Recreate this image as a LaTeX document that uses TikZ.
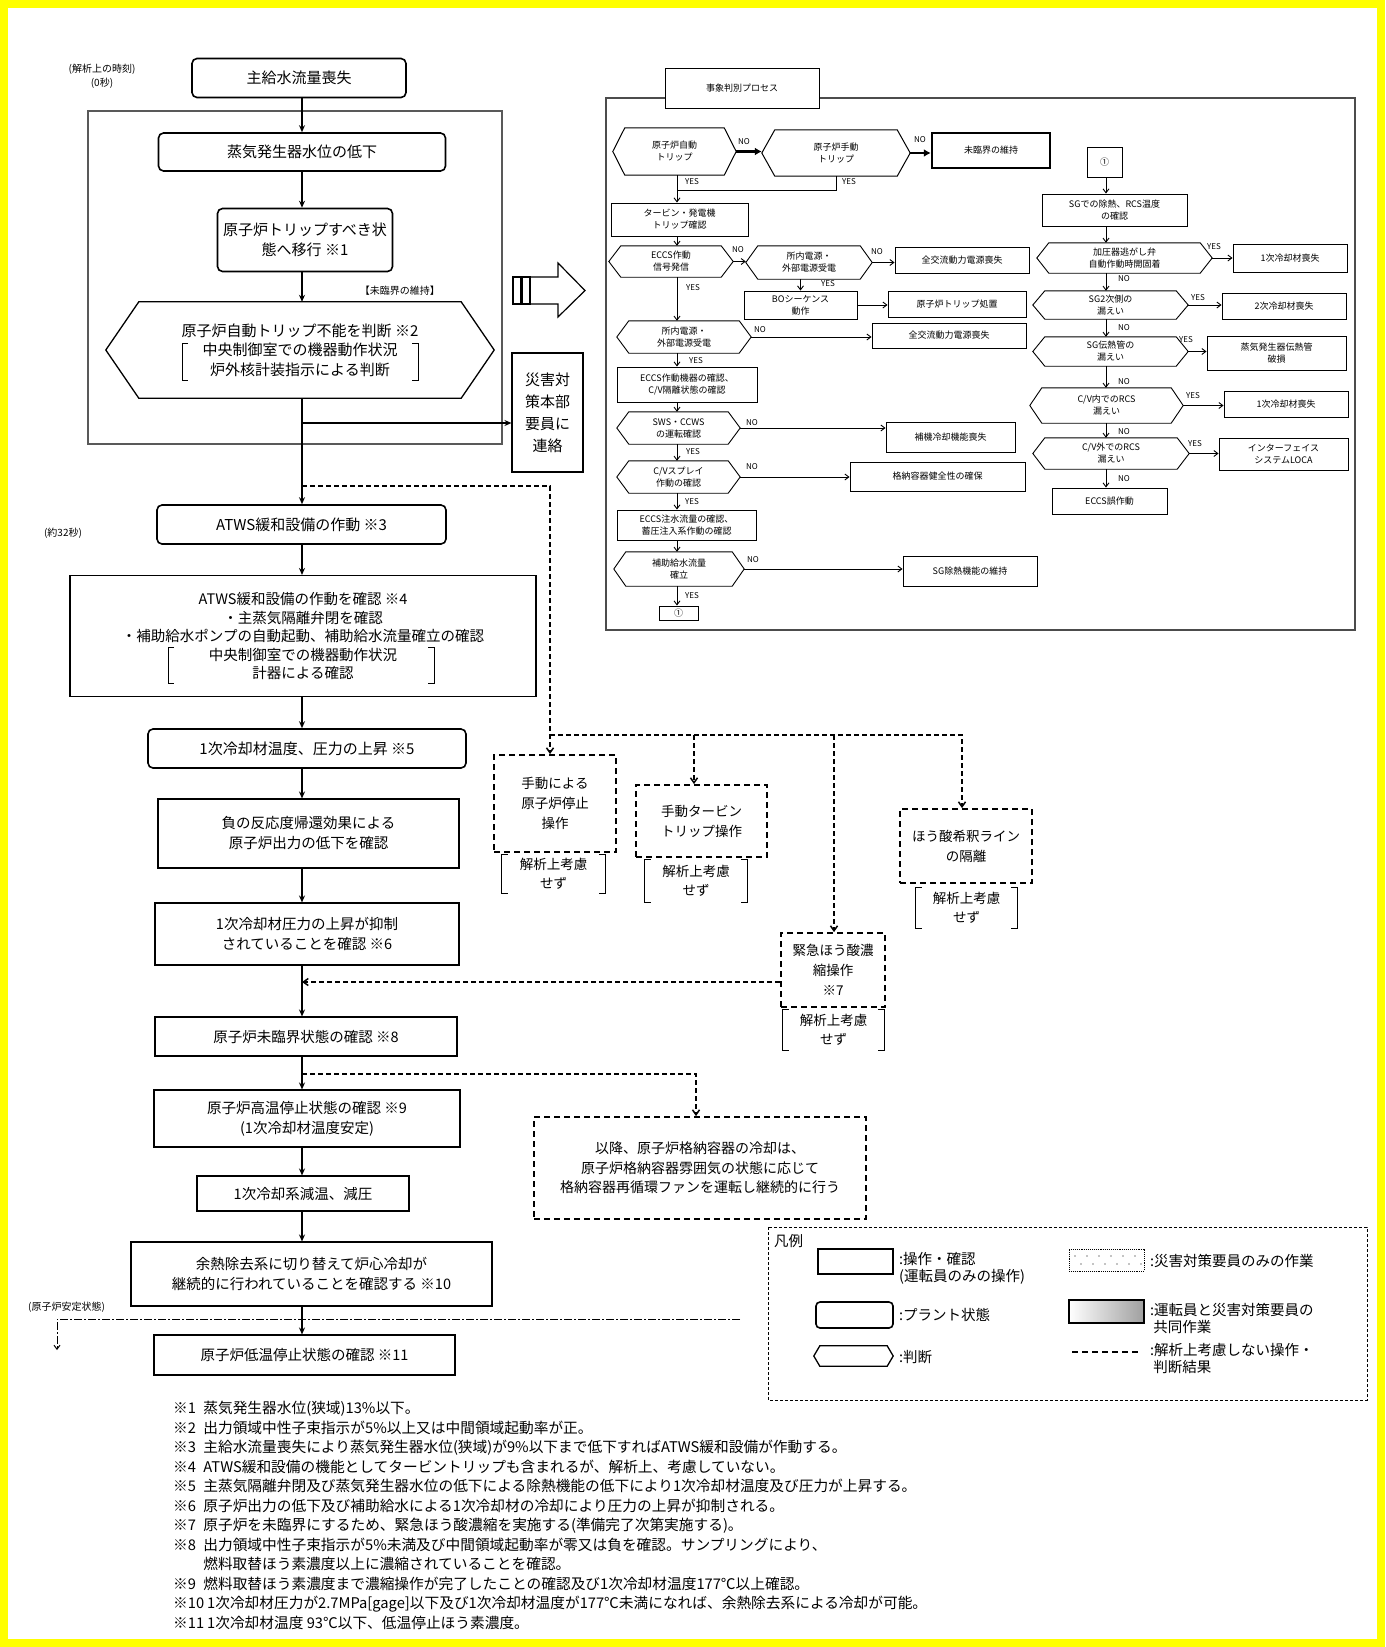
\documentclass[tikz,border=0pt]{standalone}
\usepackage{fontspec}
\setmainfont{Noto Sans CJK JP}
\usetikzlibrary{arrows.meta,calc}
\definecolor{yellowc}{RGB}{255,255,0}
\newcommand\fz[2]{\fontsize{#1}{#2}\selectfont}
\newcommand\hexpath[3]{\draw[#3] (#1.west) -- ([xshift=#2]#1.north west) -- ([xshift=-#2]#1.north east) -- (#1.east) -- ([xshift=-#2]#1.south east) -- ([xshift=#2]#1.south west) -- cycle;}
\newcommand\brackets[1]{\draw[line width=0.9] ([xshift=6]#1.north west) -- (#1.north west) -- (#1.south west) -- ([xshift=6]#1.south west);
 \draw[line width=0.9] ([xshift=-6]#1.north east) -- (#1.north east) -- (#1.south east) -- ([xshift=-6]#1.south east);}
\tikzset{
 roundbox/.style={draw, rounded corners=5pt, line width=1.6, align=center, inner sep=0, font=\fz{15}{20}},
 plainbox/.style={draw, line width=1.1, align=center, inner sep=0, font=\fz{14.5}{20}},
 hexnode/.style={align=center, inner sep=0, font=\fz{15}{19.5}},
 dashbox/.style={draw, line width=1.8, dash pattern=on 6pt off 4pt, align=center, inner sep=0, font=\fz{13.5}{20}},
 brk/.style={align=center, inner sep=0, font=\fz{13.5}{19}},
 sbox/.style={draw, line width=0.9, align=center, inner sep=0, font=\fz{9}{12}},
 shex/.style={align=center, inner sep=0, font=\fz{9}{12}},
 yn/.style={font=\fz{8}{9}, inner sep=0},
 small/.style={font=\fz{10}{14}, inner sep=0, align=center},
 mainarr/.style={line width=1.3, -{Stealth[length=7pt,width=6pt]}},
 sarr/.style={line width=0.9, -{Straight Barb[length=4pt,width=6pt]}},
 tharr/.style={line width=2.5, -{Latex[length=7pt,width=8pt]}},
 dashln/.style={line width=1.5, dash pattern=on 5pt off 3pt},
 dasharr/.style={dashln, -{Straight Barb[length=5pt,width=7pt]}},
 legtxt/.style={font=\fz{14.5}{17}, inner sep=0, align=left}
}
\begin{document}
\begin{tikzpicture}[x=1pt,y=-1pt]
\useasboundingbox (0,0) rectangle (1385,1647);
\fill[white] (0,0) rectangle (1385,1647);
\draw[yellowc, line width=8] (4,4) rectangle (1381,1643);

% ---------------- left main column ----------------
\node[small] (t0s) at (102,76) {(解析上の時刻)\\(0秒)};
\node[roundbox, minimum width=214, minimum height=39] (n1) at (299,78) {主給水流量喪失};
\draw[gray!70!black, line width=1.2] (88,111) rectangle (502,444);
\node[roundbox, minimum width=287, minimum height=38] (n2) at (302,152) {蒸気発生器水位の低下};
\node[roundbox, minimum width=175, minimum height=63] (n3) at (305,240) {原子炉トリップすべき状\\態へ移行 ※1};
\node[font=\fz{10}{12}, inner sep=0, anchor=east] (tm) at (440,291) {【未臨界の維持】};
\node[hexnode, minimum width=388, minimum height=96] (n4) at (300,350) {原子炉自動トリップ不能を判断 ※2\\中央制御室での機器動作状況\\炉外核計装指示による判断};
\hexpath{n4}{33}{line width=1.3}
\draw[line width=1] (188,343) -- (182,343) -- (182,380) -- (188,380);
\draw[line width=1] (412,343) -- (418,343) -- (418,380) -- (412,380);

\node[plainbox, minimum width=71, minimum height=119, font=\fz{15}{22}] (n5) at (547.5,412.5) {災害対\\策本部\\要員に\\連絡};

% big white arrow
\draw[line width=1.2] (513,277) rectangle (521,304);
\draw[line width=1.2] (522,277) rectangle (530,304);
\draw[line width=1.2] (530,277) -- (558,277) -- (558,263) -- (585,290.5) -- (558,317) -- (558,304) -- (530,304);

\node[small] (t32) at (63,533) {(約32秒)};
\node[roundbox, minimum width=289, minimum height=39] (n6) at (301.5,524.5) {ATWS緩和設備の作動 ※3};
\node[plainbox, minimum width=466, minimum height=121, font=\fz{14.5}{18.5}] (n7) at (303,636) {ATWS緩和設備の作動を確認 ※4\\・主蒸気隔離弁閉を確認\\・補助給水ポンプの自動起動、補助給水流量確立の確認\\中央制御室での機器動作状況\\計器による確認};
\draw[line width=1] (174,647) -- (168,647) -- (168,683) -- (174,683);
\draw[line width=1] (428,647) -- (434,647) -- (434,683) -- (428,683);
\node[roundbox, minimum width=318, minimum height=39] (n8) at (307,748.5) {1次冷却材温度、圧力の上昇 ※5};
\node[plainbox, minimum width=301, minimum height=69] (n9) at (308.5,833.5) {負の反応度帰還効果による\\原子炉出力の低下を確認};
\node[plainbox, minimum width=304, minimum height=62] (n10) at (307,934) {1次冷却材圧力の上昇が抑制\\されていることを確認 ※6};
\node[plainbox, minimum width=302, minimum height=39] (n11) at (306,1036.5) {原子炉未臨界状態の確認 ※8};
\node[plainbox, minimum width=306, minimum height=57] (n12) at (307,1118.5) {原子炉高温停止状態の確認 ※9\\(1次冷却材温度安定)};
\node[plainbox, minimum width=212, minimum height=35] (n13) at (303,1193.5) {1次冷却系減温、減圧};
\node[plainbox, minimum width=361, minimum height=64] (n14) at (311.5,1274) {余熱除去系に切り替えて炉心冷却が\\継続的に行われていることを確認する ※10};
\node[plainbox, minimum width=301, minimum height=40] (n15) at (304.5,1355) {原子炉低温停止状態の確認 ※11};

\coordinate (ax) at (302,0);
\draw[mainarr] (n1.south -| ax) -- (n2.north -| ax);
\draw[mainarr] (n2.south -| ax) -- (n3.north -| ax);
\draw[mainarr] (n3.south -| ax) -- (n4.north -| ax);
\draw[mainarr] (n4.south -| ax) -- (n6.north -| ax);
\coordinate (j1) at (302,423);
\draw[mainarr] (j1) -- (j1 -| n5.west);
\draw[mainarr] (n6.south -| ax) -- (n7.north -| ax);
\draw[mainarr] (n7.south -| ax) -- (n8.north -| ax);
\draw[mainarr] (n8.south -| ax) -- (n9.north -| ax);
\draw[mainarr] (n9.south -| ax) -- (n10.north -| ax);
\draw[mainarr] (n10.south -| ax) -- (n11.north -| ax);
\draw[mainarr] (n11.south -| ax) -- (n12.north -| ax);
\draw[mainarr] (n12.south -| ax) -- (n13.north -| ax);
\draw[mainarr] (n13.south -| ax) -- (n14.north -| ax);
\draw[mainarr] (n14.south -| ax) -- (n15.north -| ax);

% ---------------- dashed branches ----------------
\node[dashbox, minimum width=122, minimum height=97] (d1) at (555,803.5) {手動による\\原子炉停止\\操作};
\node[dashbox, minimum width=131, minimum height=72] (d2) at (701.5,821) {手動タービン\\トリップ操作};
\node[dashbox, minimum width=104, minimum height=74] (d3) at (833,970) {緊急ほう酸濃\\縮操作\\※7};
\node[dashbox, minimum width=132, minimum height=74] (d4) at (966,846) {ほう酸希釈ライン\\の隔離};
\node[dashbox, minimum width=332, minimum height=102, font=\fz{14}{19.5}] (d5) at (700,1168) {以降、原子炉格納容器の冷却は、\\原子炉格納容器雰囲気の状態に応じて\\格納容器再循環ファンを運転し継続的に行う};

\node[brk, minimum width=103, minimum height=38] (b1) at (553.5,874) {解析上考慮\\せず};
\node[brk, minimum width=102, minimum height=42] (b2) at (696,881) {解析上考慮\\せず};
\node[brk, minimum width=101, minimum height=40] (b3) at (833.5,1030) {解析上考慮\\せず};
\node[brk, minimum width=101, minimum height=40] (b4) at (966.5,908) {解析上考慮\\せず};
\brackets{b1}\brackets{b2}\brackets{b3}\brackets{b4}

\coordinate (j2) at (302,486);
\coordinate (c1) at (550,486);
\coordinate (c2) at (550,735);
\coordinate (c3) at (962,735);
\coordinate (c4) at (694,735);
\coordinate (c5) at (834,735);
\draw[dasharr] (j2) -- (c1) -- (c1 |- d1.north);
\draw[dasharr] (c2) -- (c3) -- (c3 |- d4.north);
\draw[dasharr] (c4) -- (c4 |- d2.north);
\draw[dasharr] (c5) -- (c5 |- d3.north);
\coordinate (j3) at (302,982);
\draw[dasharr] ($(d3.west)+(0,12)$) -- (j3);
\coordinate (j4) at (302,1074);
\coordinate (c7) at (696,1074);
\draw[dasharr] (j4) -- (c7) -- (c7 |- d5.north);

% stable state line
\node[small, anchor=west] (tst) at (28,1307) {(原子炉安定状態)};
\coordinate (c8) at (57,1319);
\coordinate (c9) at (740,1319);
\coordinate (c10) at (57,1350);
\draw[line width=1, dash pattern=on 8pt off 2pt on 2pt off 2pt, -{Straight Barb[length=4pt,width=6pt]}] (c9) -- (c8) -- (c10);

% ---------------- right decision process ----------------
\draw[gray!60!black, line width=1.2] (606,98) rectangle (1355,630);
\node[sbox, fill=white, minimum width=154, minimum height=40] (t0) at (742,88) {事象判別プロセス};

\node[shex, minimum width=123, minimum height=47] (r1) at (674.5,151.5) {原子炉自動\\トリップ};
\hexpath{r1}{12}{line width=1}
\node[shex, minimum width=148, minimum height=46] (r2) at (836,153) {原子炉手動\\トリップ};
\hexpath{r2}{13}{line width=1}
\node[sbox, line width=2.5, minimum width=118, minimum height=35] (r3) at (991,150.5) {未臨界の維持};
\node[sbox, minimum width=137, minimum height=33] (r4) at (679.5,219.5) {タービン・発電機\\トリップ確認};
\node[shex, minimum width=124, minimum height=31] (r5) at (671,261.5) {ECCS作動\\信号発信};
\hexpath{r5}{12}{line width=0.9}
\node[shex, minimum width=126, minimum height=33] (r6) at (809,262.5) {所内電源・\\外部電源受電};
\hexpath{r6}{12}{line width=0.9}
\node[sbox, minimum width=134, minimum height=26] (r7) at (962,260) {全交流動力電源喪失};
\node[sbox, minimum width=113, minimum height=28] (r8) at (800.5,305) {BOシーケンス\\動作};
\node[sbox, minimum width=138, minimum height=26] (r9) at (957,304) {原子炉トリップ処置};
\node[shex, minimum width=134, minimum height=32] (r10) at (684,337) {所内電源・\\外部電源受電};
\hexpath{r10}{12}{line width=0.9}
\node[sbox, minimum width=154, minimum height=25] (r11) at (949,335.5) {全交流動力電源喪失};
\node[sbox, minimum width=140, minimum height=35] (r12) at (687,384.5) {ECCS作動機器の確認、\\C/V隔離状態の確認};
\node[shex, minimum width=123, minimum height=32] (r13) at (678.5,428) {SWS・CCWS\\の運転確認};
\hexpath{r13}{12}{line width=0.9}
\node[sbox, minimum width=129, minimum height=30] (r14) at (950.5,437) {補機冷却機能喪失};
\node[shex, minimum width=123, minimum height=32] (r15) at (678.5,477) {C/Vスプレイ\\作動の確認};
\hexpath{r15}{12}{line width=0.9}
\node[sbox, minimum width=175, minimum height=29] (r16) at (937.5,476.5) {格納容器健全性の確保};
\node[sbox, minimum width=139, minimum height=30] (r17) at (686.5,525) {ECCS注水流量の確認、\\蓄圧注入系作動の確認};
\node[shex, minimum width=130, minimum height=34] (r18) at (679,569) {補助給水流量\\確立};
\hexpath{r18}{12}{line width=0.9}
\node[sbox, minimum width=134, minimum height=30] (r19) at (970,571) {SG除熱機能の維持};
\node[sbox, minimum width=39, minimum height=14] (r20) at (678.5,613) {①};

\coordinate (rx) at (677,0);
\coordinate (yj) at (677,190);
\draw[tharr] (r1.east) -- (r1.east -| r2.west);
\draw[tharr] (r2.east) -- (r2.east -| r3.west);
\draw[line width=0.9] (r2.south) |- (yj);
\draw[sarr] (r1.south -| rx) -- (r4.north -| rx);
\draw[sarr] (r4.south -| rx) -- (r5.north -| rx);
\draw[sarr] (r5.east) -- (r5.east -| r6.west);
\draw[sarr] (r6.east) -- (r6.east -| r7.west);
\draw[sarr] (r8.north |- r6.south) -- (r8.north);
\draw[sarr] (r8.east) -- (r8.east -| r9.west);
\draw[sarr] (r5.south -| rx) -- (r10.north -| rx);
\draw[sarr] (r10.east) -- (r10.east -| r11.west);
\draw[sarr] (r10.south -| rx) -- (r12.north -| rx);
\draw[sarr] (r12.south -| rx) -- (r13.north -| rx);
\draw[sarr] (r13.east) -- (r13.east -| r14.west);
\draw[sarr] (r13.south -| rx) -- (r15.north -| rx);
\draw[sarr] (r15.east) -- (r15.east -| r16.west);
\draw[sarr] (r15.south -| rx) -- (r17.north -| rx);
\draw[sarr] (r17.south -| rx) -- (r18.north -| rx);
\draw[sarr] (r18.east) -- (r18.east -| r19.west);
\draw[sarr] (r18.south -| rx) -- (r20.north -| rx);

\node[yn] (l1) at (744,142) {NO};
\node[yn] (l2) at (920,140) {NO};
\node[yn] (l3) at (692,182) {YES};
\node[yn] (l4) at (849,182) {YES};
\node[yn] (l5) at (738,250) {NO};
\node[yn] (l6) at (877,252) {NO};
\node[yn] (l7) at (828,284) {YES};
\node[yn] (l8) at (693,288) {YES};
\node[yn] (l9) at (760,330) {NO};
\node[yn] (l10) at (696,361) {YES};
\node[yn] (l11) at (752,423) {NO};
\node[yn] (l12) at (693,452) {YES};
\node[yn] (l13) at (752,467) {NO};
\node[yn] (l14) at (692,502) {YES};
\node[yn] (l15) at (753,560) {NO};
\node[yn] (l16) at (692,596) {YES};

\node[sbox, minimum width=35, minimum height=30] (s1) at (1104.5,162) {①};
\node[sbox, minimum width=145, minimum height=32] (s2) at (1114.5,210) {SGでの除熱、RCS温度\\の確認};
\node[shex, minimum width=175, minimum height=30] (s3) at (1124.5,258) {加圧器逃がし弁\\自動作動時開固着};
\hexpath{s3}{12}{line width=0.9}
\node[sbox, minimum width=114, minimum height=28] (s4) at (1290,258) {1次冷却材喪失};
\node[shex, minimum width=155, minimum height=28] (s5) at (1110.5,305) {SG2次側の\\漏えい};
\hexpath{s5}{12}{line width=0.9}
\node[sbox, minimum width=124, minimum height=26] (s6) at (1284,306) {2次冷却材喪失};
\node[shex, minimum width=155, minimum height=29] (s7) at (1110.5,351.5) {SG伝熱管の\\漏えい};
\hexpath{s7}{12}{line width=0.9}
\node[sbox, minimum width=139, minimum height=34] (s8) at (1276.5,353) {蒸気発生器伝熱管\\破損};
\node[shex, minimum width=153, minimum height=35] (s9) at (1106.5,405.5) {C/V内でのRCS\\漏えい};
\hexpath{s9}{12}{line width=0.9}
\node[sbox, minimum width=124, minimum height=26] (s10) at (1286,404) {1次冷却材喪失};
\node[shex, minimum width=156, minimum height=31] (s11) at (1111,453.5) {C/V外でのRCS\\漏えい};
\hexpath{s11}{12}{line width=0.9}
\node[sbox, minimum width=129, minimum height=32] (s12) at (1283.5,454) {インターフェイス\\システムLOCA};
\node[sbox, minimum width=115, minimum height=26] (s13) at (1109.5,501) {ECCS誤作動};

\coordinate (sx) at (1106,0);
\draw[sarr] (s1.south -| sx) -- (s2.north -| sx);
\draw[sarr] (s2.south -| sx) -- (s3.north -| sx);
\draw[sarr] (s3.east) -- (s3.east -| s4.west);
\draw[sarr] (s3.south -| sx) -- (s5.north -| sx);
\draw[sarr] (s5.east) -- (s5.east -| s6.west);
\draw[sarr] (s5.south -| sx) -- (s7.north -| sx);
\draw[sarr] (s7.east) -- (s7.east -| s8.west);
\draw[sarr] (s7.south -| sx) -- (s9.north -| sx);
\draw[sarr] (s9.east) -- (s9.east -| s10.west);
\draw[sarr] (s9.south -| sx) -- (s11.north -| sx);
\draw[sarr] (s11.east) -- (s11.east -| s12.west);
\draw[sarr] (s11.south -| sx) -- (s13.north -| sx);

\node[yn] (m1) at (1214,247) {YES};
\node[yn] (m2) at (1124,279) {NO};
\node[yn] (m3) at (1198,298) {YES};
\node[yn] (m4) at (1124,328) {NO};
\node[yn] (m5) at (1186,340) {YES};
\node[yn] (m6) at (1124,382) {NO};
\node[yn] (m7) at (1193,396) {YES};
\node[yn] (m8) at (1124,432) {NO};
\node[yn] (m9) at (1195,444) {YES};
\node[yn] (m10) at (1124,479) {NO};

% ---------------- legend ----------------
\draw[line width=0.7, dash pattern=on 3pt off 2pt] (768,1227) rectangle (1367,1400);
\node[legtxt, anchor=west] (lg0) at (774,1241) {凡例};
\node[draw, line width=1.1, inner sep=0, minimum width=75, minimum height=25] (L1) at (855.5,1261.5) {};
\node[legtxt, anchor=north west] (L1t) at (899,1252) {:操作・確認\\(運転員のみの操作)};
\node[draw, rounded corners=4pt, line width=1.6, inner sep=0, minimum width=77, minimum height=26] (L2) at (854.5,1315) {};
\node[legtxt, anchor=west] (L2t) at (899,1315) {:プラント状態};
\node[inner sep=0, minimum width=79, minimum height=20] (L3) at (853.5,1356) {};
\hexpath{L3}{6}{line width=1.3}
\node[legtxt, anchor=west] (L3t) at (899,1357) {:判断};
\node[draw, densely dotted, line width=0.9, inner sep=0, minimum width=75, minimum height=22] (L4) at (1106.5,1260) {};
\foreach \i in {0,...,5} { \fill (1075+12*\i,1256) circle (0.7); \fill (1081+12*\i,1264) circle (0.7); }
\node[legtxt, anchor=west] (L4t) at (1150,1261) {:災害対策要員のみの作業};
\node[draw, line width=1.1, inner sep=0, minimum width=75, minimum height=23, left color=white, right color=gray!75] (L5) at (1106.5,1311.5) {};
\node[legtxt, anchor=north west] (L5t) at (1150,1303) {:運転員と災害対策要員の\\\ 共同作業};
\coordinate (L6a) at (1072,1352);
\coordinate (L6b) at (1140,1352);
\draw[line width=1.6, dash pattern=on 6pt off 4pt] (L6a) -- (L6b);
\node[legtxt, anchor=north west] (L6t) at (1150,1343) {:解析上考慮しない操作・\\\ 判断結果};

% ---------------- notes ----------------
\node[anchor=north west, align=left, inner sep=0, font=\fz{14.7}{19.5}] (notes) at (173,1401) {%
※1\hspace{0.5em}蒸気発生器水位(狭域)13\%以下。\\
※2\hspace{0.5em}出力領域中性子束指示が5\%以上又は中間領域起動率が正。\\
※3\hspace{0.5em}主給水流量喪失により蒸気発生器水位(狭域)が9\%以下まで低下すればATWS緩和設備が作動する。\\
※4\hspace{0.5em}ATWS緩和設備の機能としてタービントリップも含まれるが、解析上、考慮していない。\\
※5\hspace{0.5em}主蒸気隔離弁閉及び蒸気発生器水位の低下による除熱機能の低下により1次冷却材温度及び圧力が上昇する。\\
※6\hspace{0.5em}原子炉出力の低下及び補助給水による1次冷却材の冷却により圧力の上昇が抑制される。\\
※7\hspace{0.5em}原子炉を未臨界にするため、緊急ほう酸濃縮を実施する(準備完了次第実施する)。\\
※8\hspace{0.5em}出力領域中性子束指示が5\%未満及び中間領域起動率が零又は負を確認。サンプリングにより、\\
\hspace*{2.05em}燃料取替ほう素濃度以上に濃縮されていることを確認。\\
※9\hspace{0.5em}燃料取替ほう素濃度まで濃縮操作が完了したことの確認及び1次冷却材温度177℃以上確認。\\
※10\hspace{0.2em}1次冷却材圧力が2.7MPa[gage]以下及び1次冷却材温度が177℃未満になれば、余熱除去系による冷却が可能。\\
※11\hspace{0.2em}1次冷却材温度 93℃以下、低温停止ほう素濃度。};
\end{tikzpicture}
\end{document}
